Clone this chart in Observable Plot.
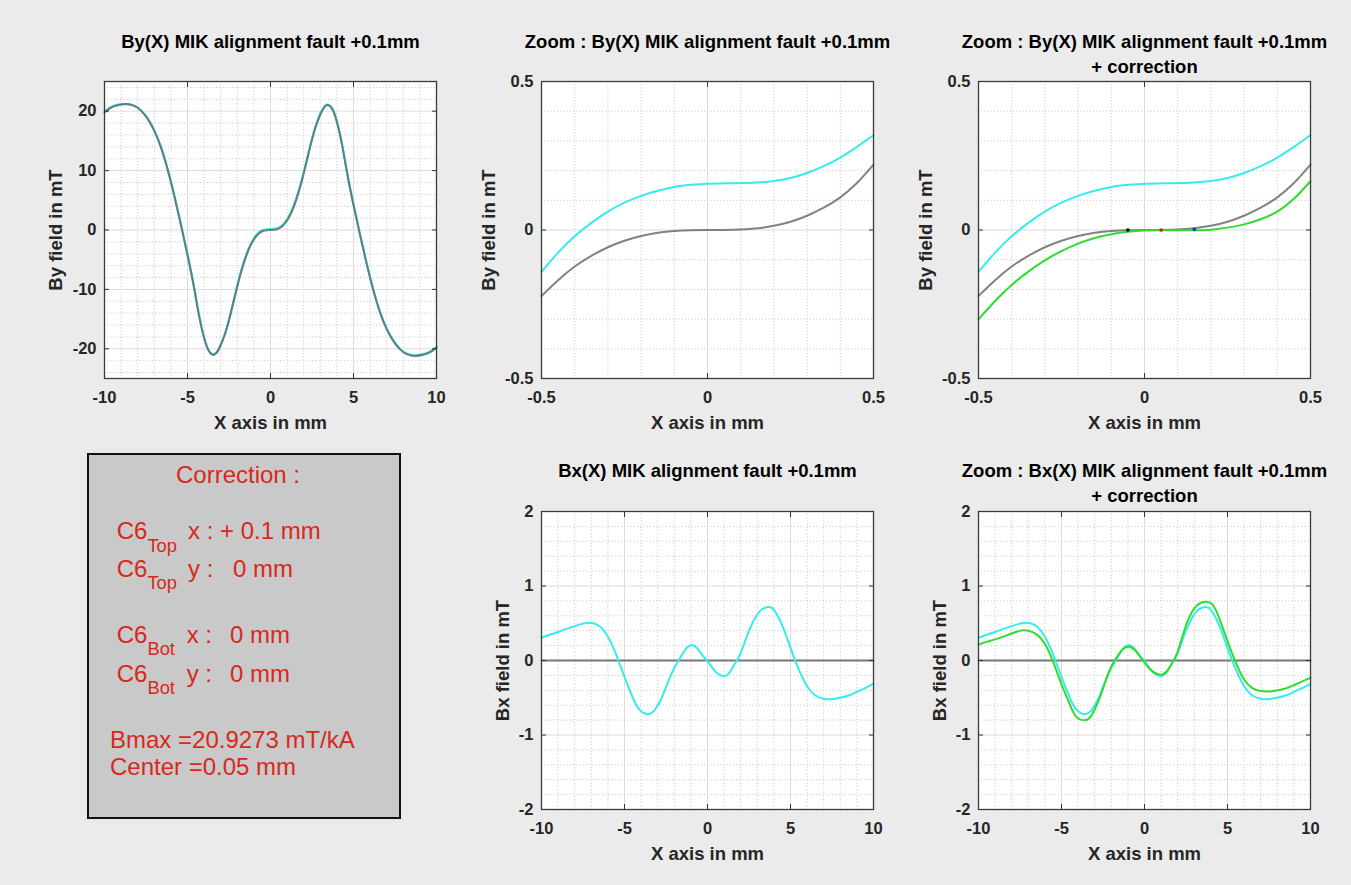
<!DOCTYPE html>
<html>
<head>
<meta charset="utf-8">
<script src="https://cdn.jsdelivr.net/npm/d3@7"></script>
<script src="https://cdn.jsdelivr.net/npm/@observablehq/plot@0.6"></script>
<style>
html, body { margin: 0; padding: 0; background: #ebebeb; }
#fig { position: relative; width: 1351px; height: 885px; background: #ebebeb; overflow: hidden;
       font-family: Arial, "Liberation Sans", Helvetica, sans-serif; }
#fig > svg, #fig > div { position: absolute; }
</style>
</head>
<body>
<div id="fig"></div>
<script>
// ---------------- DATA ----------------
// By(X), wide range -10..10 mm
const xWide = [-10, -9.6, -9.2, -8.7, -8.2, -7.8, -7.4, -7.0, -6.6, -6.2, -5.8, -5.4, -5.0, -4.6, -4.3, -4.0, -3.75, -3.5, -3.25, -3.0, -2.75, -2.5, -2.2, -1.9, -1.6, -1.3, -1.0, -0.7, -0.4, 0,
               0.4, 0.7, 1.0, 1.3, 1.6, 1.9, 2.2, 2.5, 2.75, 3.0, 3.25, 3.5, 3.75, 4.0, 4.3, 4.6, 5.0, 5.4, 5.8, 6.2, 6.6, 7.0, 7.4, 7.8, 8.2, 8.7, 9.2, 9.6, 10];
const byIdealWide = [19.8, 20.6, 21.0, 21.2, 20.9, 20.1, 18.7, 16.7, 13.9, 10.2, 5.8, 0.9, -4.2, -9.8, -14.5, -18.2, -20.2, -21.0, -20.7, -19.4, -17.6, -15.2, -11.8, -8.4, -5.5, -3.2, -1.6, -0.6, -0.14, 0,
                     0.14, 0.6, 1.6, 3.2, 5.5, 8.4, 11.8, 15.2, 17.6, 19.4, 20.7, 21.0, 20.2, 18.2, 14.5, 9.8, 4.2, -0.9, -5.8, -10.2, -13.9, -16.7, -18.7, -20.1, -20.9, -21.2, -21.0, -20.6, -19.8];
const byFaultWide = [19.9, 20.7, 21.1, 21.2, 20.9, 20.1, 18.8, 16.8, 14.0, 10.3, 5.9, 1.0, -4.1, -9.7, -14.4, -18.1, -20.1, -20.9, -20.6, -19.3, -17.5, -15.1, -11.7, -8.2, -5.3, -3.0, -1.4, -0.4, 0.05, 0.16,
                     0.3, 0.8, 1.8, 3.4, 5.7, 8.6, 12.0, 15.4, 17.8, 19.6, 20.8, 21.1, 20.3, 18.3, 14.6, 9.9, 4.3, -0.8, -5.7, -10.1, -13.8, -16.6, -18.6, -20.0, -20.8, -21.1, -20.9, -20.5, -19.7];

// By(X), zoom -0.5..0.5 mm
const xZoom = [-0.5, -0.45, -0.4, -0.35, -0.3, -0.25, -0.2, -0.15, -0.1, -0.05, 0, 0.05, 0.1, 0.15, 0.2, 0.25, 0.3, 0.35, 0.4, 0.45, 0.5];
const byIdealZoom = [-0.222, -0.169, -0.123, -0.087, -0.058, -0.036, -0.020, -0.009, -0.003, -0.0005, 0, 0.0003, 0.002, 0.006, 0.014, 0.028, 0.048, 0.075, 0.110, 0.158, 0.220];
const byFaultZoom = [-0.141, -0.076, -0.021, 0.024, 0.062, 0.092, 0.115, 0.132, 0.145, 0.152, 0.156, 0.157, 0.158, 0.160, 0.165, 0.175, 0.192, 0.215, 0.244, 0.280, 0.319];
const byCorrZoom = [-0.301, -0.239, -0.185, -0.140, -0.102, -0.071, -0.046, -0.027, -0.014, -0.006, -0.002, -0.001, -0.001, -0.0005, 0.001, 0.008, 0.019, 0.036, 0.062, 0.105, 0.164];

// centre markers on the corrected curve
const markX = [-0.05, 0.05, 0.15];
const markY = [0, 0, 0.002];
const markColor = ["#000000", "#e01010", "#1030e0"];

// Bx(X) with fault (cyan)
const xBxFault = [-10, -9.5, -9, -8.5, -8, -7.5, -7.2, -6.9, -6.5, -6, -5.5, -5, -4.5, -4.1, -3.6, -3.2, -2.8, -2.4, -2, -1.5, -1.2, -0.9, -0.6, -0.3, 0, 0.3, 0.6, 1, 1.3, 1.6, 2, 2.5, 3, 3.3, 3.65, 4, 4.5, 5, 5.5, 6, 6.5, 7, 7.45, 8, 8.5, 9, 9.5, 10];
const bxFault = [0.305, 0.345, 0.383, 0.425, 0.462, 0.495, 0.507, 0.500, 0.46, 0.32, 0.08, -0.22, -0.50, -0.66, -0.72, -0.67, -0.52, -0.30, -0.10, 0.09, 0.18, 0.206, 0.16, 0.07, -0.01, -0.10, -0.175, -0.21, -0.17, -0.06, 0.10, 0.40, 0.62, 0.69, 0.717, 0.68, 0.47, 0.17, -0.12, -0.345, -0.47, -0.515, -0.52, -0.50, -0.47, -0.42, -0.37, -0.314];
// Bx(X) with correction (green)
const xBxCorr = [-10, -9.5, -9, -8.5, -8, -7.5, -7.3, -7, -6.5, -6, -5.5, -5, -4.5, -4.1, -3.55, -3.2, -2.8, -2.4, -2, -1.5, -1.2, -0.85, -0.5, -0.2, 0.1, 0.5, 1.03, 1.4, 1.7, 2, 2.5, 3, 3.4, 3.75, 4.1, 4.5, 5, 5.5, 6, 6.5, 7, 7.55, 8, 8.5, 9, 9.5, 10];
const bxCorr = [0.215, 0.25, 0.283, 0.32, 0.363, 0.398, 0.405, 0.40, 0.35, 0.22, -0.02, -0.32, -0.59, -0.76, -0.80, -0.74, -0.56, -0.31, -0.08, 0.10, 0.17, 0.182, 0.12, 0.03, -0.06, -0.15, -0.19, -0.13, -0.02, 0.12, 0.47, 0.70, 0.775, 0.79, 0.75, 0.57, 0.26, -0.03, -0.255, -0.37, -0.41, -0.415, -0.40, -0.375, -0.33, -0.28, -0.233];
// Bx ideal (grey)
const xBxIdeal = [-10, 10];
const bxIdeal = [0, 0];

// tick values
const xTicksWide = [-10, -5, 0, 5, 10];
const xMinorWide = [-9, -8, -7, -6, -4, -3, -2, -1, 1, 2, 3, 4, 6, 7, 8, 9];
const yTicksBy = [-20, -10, 0, 10, 20];
const yMinorBy = [-24, -22, -18, -16, -14, -12, -8, -6, -4, -2, 2, 4, 6, 8, 12, 14, 16, 18, 22, 24];
const ticksZoom = [-0.5, 0, 0.5];
const minorZoom = [-0.4, -0.3, -0.2, -0.1, 0.1, 0.2, 0.3, 0.4];
const yTicksBx = [-2, -1, 0, 1, 2];
const yMinorBx = [-1.8, -1.6, -1.4, -1.2, -0.8, -0.6, -0.4, -0.2, 0.2, 0.4, 0.6, 0.8, 1.2, 1.4, 1.6, 1.8];

// texts
const titles = [
  "By(X) MIK alignment fault +0.1mm",
  "Zoom : By(X) MIK alignment fault +0.1mm",
  "Zoom : By(X) MIK alignment fault +0.1mm\n+ correction",
  "Bx(X) MIK alignment fault +0.1mm",
  "Zoom : Bx(X) MIK alignment fault +0.1mm\n+ correction"
];
const xLabel = "X axis in mm";
const yLabelBy = "By field in mT";
const yLabelBx = "Bx field in mT";

// ---------------- HELPERS ----------------
const FONT = 'Arial, "Liberation Sans", Helvetica, sans-serif';
const CYAN = "#35ecec", GREEN = "#2fdc2f", GREY = "#666666";
const zip = (xs, ys) => xs.map((x, i) => ({x, y: ys[i]}));
const fmt = d => String(d);

function panel(cfg) {
  const [fx0, fx1, fy0, fy1] = cfg.frame;
  const mL = fx0 - cfg.left, mR = cfg.left + cfg.width - fx1;
  const mT = fy0 - cfg.top, mB = cfg.top + cfg.height - fy1;
  const T = 5;
  const tickStyle = {tickFormat: () => "", stroke: "#333", label: null};
  const chart = Plot.plot({
    width: cfg.width, height: cfg.height,
    marginLeft: mL, marginRight: mR, marginTop: mT, marginBottom: mB,
    style: {background: "transparent", fontFamily: FONT, overflow: "visible"},
    x: {domain: cfg.xDomain},
    y: {domain: cfg.yDomain},
    marks: [
      Plot.frame({fill: "white", stroke: null}),
      Plot.gridX({ticks: cfg.xMinor, stroke: "#c2c2c2", strokeOpacity: 1, strokeDasharray: "1,2.2"}),
      Plot.gridY({ticks: cfg.yMinor, stroke: "#c2c2c2", strokeOpacity: 1, strokeDasharray: "1,2.2"}),
      Plot.gridX({ticks: cfg.xMajor, stroke: "#dcdcdc", strokeOpacity: 1}),
      Plot.gridY({ticks: cfg.yMajor, stroke: "#dcdcdc", strokeOpacity: 1}),
      ...cfg.marks,
      Plot.axisX({ticks: cfg.xMajor, anchor: "bottom", tickSize: T, dy: -T, ...tickStyle}),
      Plot.axisX({ticks: cfg.xMajor, anchor: "top", tickSize: T, dy: T, ...tickStyle}),
      Plot.axisY({ticks: cfg.yMajor, anchor: "left", tickSize: T, dx: T, ...tickStyle}),
      Plot.axisY({ticks: cfg.yMajor, anchor: "right", tickSize: T, dx: -T, ...tickStyle}),
      Plot.axisX({ticks: cfg.xMajor, anchor: "bottom", tickSize: 0, tickPadding: 13, tickFormat: fmt,
                  fontSize: 16.5, fontWeight: "bold", fill: "#262626", label: null}),
      Plot.axisY({ticks: cfg.yMajor, anchor: "left", tickSize: 0, tickPadding: 8, tickFormat: fmt,
                  fontSize: 16.5, fontWeight: "bold", fill: "#262626", label: null}),
      Plot.frame({stroke: "#3a3a3a", strokeWidth: 1.3}),
      Plot.text([xLabel], {frameAnchor: "bottom", lineAnchor: "bottom", textAnchor: "middle", dy: 50,
                           fontSize: 18.5, fontWeight: "bold", fill: "#262626"}),
      Plot.text([cfg.yLabel], {frameAnchor: "left", lineAnchor: "top", textAnchor: "middle", rotate: -90,
                               dx: -cfg.yLabelOffset, fontSize: 18.5, fontWeight: "bold", fill: "#262626"}),
      Plot.text([cfg.title], {frameAnchor: "top", lineAnchor: "bottom", textAnchor: "middle", dy: cfg.titleDy,
                              lineHeight: 1.35, fontSize: 18.5, fontWeight: "bold", fill: "#000"})
    ]
  });
  chart.style.left = cfg.left + "px";
  chart.style.top = cfg.top + "px";
  document.getElementById("fig").appendChild(chart);
}

// ---------------- PANELS ----------------
const lineOpt = (stroke, extra = {}) => ({x: "x", y: "y", stroke, strokeWidth: 2, curve: "natural", ...extra});

// 1: By(X) wide
panel({
  left: 0, top: 0, width: 450, height: 440, frame: [104, 436, 81, 378],
  xDomain: [-10, 10], yDomain: [-25, 25],
  xMajor: xTicksWide, xMinor: xMinorWide, yMajor: yTicksBy, yMinor: yMinorBy,
  yLabel: yLabelBy, yLabelOffset: 56, title: titles[0], titleDy: -34,
  marks: [
    Plot.line(zip(xWide, byFaultWide), lineOpt(CYAN, {strokeWidth: 2.2})),
    Plot.line(zip(xWide, byIdealWide), lineOpt(GREY, {strokeOpacity: 0.82}))
  ]
});

// 2: By(X) zoom
panel({
  left: 450, top: 0, width: 450, height: 440, frame: [541, 873, 81, 378],
  xDomain: [-0.5, 0.5], yDomain: [-0.5, 0.5],
  xMajor: ticksZoom, xMinor: minorZoom, yMajor: ticksZoom, yMinor: minorZoom,
  yLabel: yLabelBy, yLabelOffset: 60, title: titles[1], titleDy: -34,
  marks: [
    Plot.line(zip(xZoom, byFaultZoom), lineOpt(CYAN)),
    Plot.line(zip(xZoom, byIdealZoom), lineOpt(GREY, {strokeOpacity: 0.82}))
  ]
});

// 3: By(X) zoom + correction
panel({
  left: 900, top: 0, width: 451, height: 440, frame: [978, 1310, 81, 378],
  xDomain: [-0.5, 0.5], yDomain: [-0.5, 0.5],
  xMajor: ticksZoom, xMinor: minorZoom, yMajor: ticksZoom, yMinor: minorZoom,
  yLabel: yLabelBy, yLabelOffset: 60, title: titles[2], titleDy: -9,
  marks: [
    Plot.line(zip(xZoom, byFaultZoom), lineOpt(CYAN)),
    Plot.line(zip(xZoom, byIdealZoom), lineOpt(GREY, {strokeOpacity: 0.82})),
    Plot.line(zip(xZoom, byCorrZoom), lineOpt(GREEN)),
    ...markX.map((mx, i) => Plot.dot([{x: mx, y: markY[i]}], {x: "x", y: "y", r: 1.8, fill: markColor[i], stroke: null}))
  ]
});

// 4: Bx(X)
panel({
  left: 450, top: 440, width: 450, height: 445, frame: [541, 873, 511, 809],
  xDomain: [-10, 10], yDomain: [-2, 2],
  xMajor: xTicksWide, xMinor: xMinorWide, yMajor: yTicksBx, yMinor: yMinorBx,
  yLabel: yLabelBx, yLabelOffset: 45.5, title: titles[3], titleDy: -34.3,
  marks: [
    Plot.line(zip(xBxIdeal, bxIdeal), {x: "x", y: "y", stroke: "#767676", strokeWidth: 2}),
    Plot.line(zip(xBxFault, bxFault), lineOpt(CYAN))
  ]
});

// 5: Bx(X) + correction
panel({
  left: 900, top: 440, width: 451, height: 445, frame: [978, 1310, 511, 809],
  xDomain: [-10, 10], yDomain: [-2, 2],
  xMajor: xTicksWide, xMinor: xMinorWide, yMajor: yTicksBx, yMinor: yMinorBx,
  yLabel: yLabelBx, yLabelOffset: 45.5, title: titles[4], titleDy: -9.3,
  marks: [
    Plot.line(zip(xBxIdeal, bxIdeal), {x: "x", y: "y", stroke: "#767676", strokeWidth: 2}),
    Plot.line(zip(xBxFault, bxFault), lineOpt(CYAN)),
    Plot.line(zip(xBxCorr, bxCorr), lineOpt(GREEN))
  ]
});

// ---------------- CORRECTION BOX ----------------
const RED = "#d8281c";
const boxSvg = `
<svg xmlns="http://www.w3.org/2000/svg" width="450" height="445" style="left:0;top:440px" font-family='${FONT}' fill="${RED}">
  <rect x="88" y="14" width="312" height="364" fill="#c9c9c9" stroke="#111" stroke-width="2"/>
  <text x="238" y="42.7" font-size="24" text-anchor="middle">Correction :</text>
  <text y="99.3" font-size="24"><tspan x="116.7">C6</tspan><tspan font-size="18.4" dy="12.4">Top</tspan><tspan x="188" dy="-12.4">x : + 0.1 mm</tspan></text>
  <text y="136.7" font-size="24"><tspan x="116.7">C6</tspan><tspan font-size="18.4" dy="12.4">Top</tspan><tspan x="188" dy="-12.4">y :</tspan><tspan x="233">0 mm</tspan></text>
  <text y="203.3" font-size="24"><tspan x="116.7">C6</tspan><tspan font-size="18.4" dy="12">Bot</tspan><tspan x="186.7" dy="-12">x :</tspan><tspan x="230">0 mm</tspan></text>
  <text y="241.7" font-size="24"><tspan x="116.7">C6</tspan><tspan font-size="18.4" dy="12">Bot</tspan><tspan x="186.7" dy="-12">y :</tspan><tspan x="230">0 mm</tspan></text>
  <text x="110" y="308" font-size="24">Bmax =20.9273 mT/kA</text>
  <text x="110" y="335" font-size="24">Center =0.05 mm</text>
</svg>`;
document.getElementById("fig").insertAdjacentHTML("beforeend", boxSvg);
</script>
</body>
</html>
